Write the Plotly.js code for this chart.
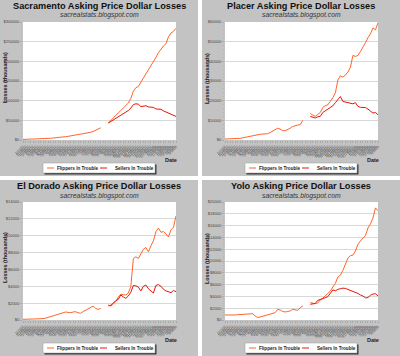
<!DOCTYPE html>
<html>
<head>
<meta charset="utf-8">
<script src="https://cdn.plot.ly/plotly-3.0.1.min.js"></script>
<style>html,body{margin:0;padding:0;background:#fff;}#chart{width:400px;height:356px;}</style>
</head>
<body>
<div id="chart"></div>
<script>
// ---- data ----
const dates = ["1/7/07","1/14/07","1/21/07","1/28/07","2/4/07","2/11/07","2/18/07","2/25/07","3/4/07","3/11/07","3/18/07","3/25/07","4/1/07","4/8/07","4/15/07","4/22/07","4/29/07","5/6/07","5/13/07","5/20/07","5/27/07","6/3/07","6/10/07","6/17/07","6/24/07","7/1/07","7/8/07","7/15/07","7/22/07","7/29/07","8/5/07","8/12/07","8/19/07","8/26/07","9/2/07","9/9/07","9/16/07","9/23/07","9/30/07","10/7/07","10/14/07","10/21/07","10/28/07","11/4/07","11/11/07","11/18/07","11/25/07","12/2/07","12/9/07","12/16/07","12/23/07","12/30/07","1/6/08","1/13/08","1/20/08","1/27/08","2/3/08","2/10/08","2/17/08","2/24/08","3/2/08","3/9/08"];

const seriesNames = ["Flippers In Trouble", "Sellers In Trouble"];
const panelTitles = ["Sacramento Asking Price Dollar Losses", "Placer Asking Price Dollar Losses", "El Dorado Asking Price Dollar Losses", "Yolo Asking Price Dollar Losses"];
const subtitle = "sacrealstats.blogspot.com";
const yTitle = "Losses (thousands)";
const xTitle = "Date";

const sacFlippers = [1500,1600,1700,1900,2200,2400,2600,3000,3300,3600,4000,4400,5000,5400,6400,6800,7900,8500,9300,10400,11000,11800,13200,13800,15000,16200,17300,19600,21800,24200,27400,31000,null,null,
  43000,50000,57000,63000,69000,75000,81000,86000,94000,106000,124000,133000,136000,147000,157000,168000,178000,189000,198000,210000,222000,232000,239000,245000,262000,272000,276000,284000];
const sacSellers = [null,null,null,null,null,null,null,null,null,null,null,null,null,null,null,null,null,null,null,null,null,null,null,null,null,null,null,null,null,null,null,null,null,null,
  43000,47000,51000,55000,59000,62000,65000,70000,75000,81000,90000,92000,91000,85000,86000,87000,84000,84000,83000,79000,79000,78000,74000,71000,68000,65000,62000,60000];

const plaFlippers = [500,500,600,600,700,800,850,1100,1400,1700,1900,2200,2400,2700,2900,3000,3000,3200,3800,4600,5300,6000,5500,4800,4700,5200,6000,6900,7400,7600,7800,10000,null,null,
  13400,12500,12000,13000,14000,16500,17500,17900,19500,21500,24000,30500,32600,32000,33000,34500,37000,43000,42500,43000,45000,47000,49500,52000,54000,57000,56000,59700];
const plaSellers = [null,null,null,null,null,null,null,null,null,null,null,null,null,null,null,null,null,null,null,null,null,null,null,null,null,null,null,null,null,null,null,null,null,null,
  12000,11500,11200,11800,12000,14000,14800,15400,16200,17400,19000,20500,22100,19600,19300,19100,18600,18400,19000,17100,16600,16700,16500,15700,14500,13700,14000,12800];

const eldFlippers = [80,80,90,100,100,110,120,140,160,220,300,380,480,580,680,750,850,950,900,870,950,990,850,800,1000,1150,1300,1450,1650,1350,1270,1380,null,null,
  1660,1780,2000,2200,2730,3050,3000,2970,3200,4000,7300,7500,7300,7900,8400,8600,8100,8800,9400,10500,10900,10400,10500,10200,9850,10700,11000,12340];
const eldSellers = [null,null,null,null,null,null,null,null,null,null,null,null,null,null,null,null,null,null,null,null,null,null,null,null,null,null,null,null,null,null,null,null,null,null,
  1780,1660,2000,2300,2450,2970,2730,2570,2850,3300,4100,4050,3900,3450,4000,4150,3700,3500,3200,4100,4200,4000,3650,3450,3350,3250,3500,3360];

const yolFlippers = [850,820,800,790,850,900,940,960,960,980,1000,1070,700,420,510,650,790,880,960,1100,1240,1810,1700,1450,1360,1450,1530,1810,1700,1640,2090,2370,null,null,
  2940,2850,2770,2900,3400,3700,4070,4500,4900,5600,6200,7300,7600,8400,9500,10500,10900,11000,11700,12800,13400,13900,14300,15600,16300,17300,19000,18500];
const yolSellers = [null,null,null,null,null,null,null,null,null,null,null,null,null,null,null,null,null,null,null,null,null,null,null,null,null,null,null,null,null,null,null,null,null,null,
  2660,2700,2800,3330,3450,3650,3790,3950,4500,5100,4950,5200,5300,5400,5350,5200,5000,4900,4700,4500,4240,4070,3750,3800,4200,4400,4450,4070];

const yMax = [300000, 60000, 14000, 20000];
const yStep = [50000, 10000, 2000, 2000];

// ---- styling / layout ----
const W = 400, H = 356;
const FONT = "Liberation Sans, Arial, sans-serif";
const colors = ["#ff6428", "#e81408"];
const px = x => x / W;
const py = y => 1 - y / H;

const panels = [
  {fl: sacFlippers, se: sacSellers, ox: 0,   oy: 0},
  {fl: plaFlippers, se: plaSellers, ox: 202, oy: 0},
  {fl: eldFlippers, se: eldSellers, ox: 0,   oy: 180},
  {fl: yolFlippers, se: yolSellers, ox: 202, oy: 180}
];

const traces = [];
const layout = {
  width: W, height: H,
  margin: {l: 0, r: 0, t: 0, b: 0},
  paper_bgcolor: "#ffffff",
  plot_bgcolor: "#ffffff",
  showlegend: false,
  font: {family: FONT, color: "#222"},
  shapes: [],
  annotations: []
};

panels.forEach((p, k) => {
  const n = k + 1;
  const xa = "x" + (n === 1 ? "" : n), ya = "y" + (n === 1 ? "" : n);
  const ox = p.ox, oy = p.oy;
  // plot area in pixels
  const L = ox + 23, R = ox + 176, T = oy + 22, B = oy + 140;

  [p.fl, p.se].forEach((vals, s) => {
    traces.push({
      type: "scatter", mode: "lines",
      x: dates, y: vals,
      xaxis: xa, yaxis: ya,
      name: seriesNames[s],
      connectgaps: false,
      line: {color: colors[s], width: 1},
      hoverinfo: "skip"
    });
  });

  layout["xaxis" + (n === 1 ? "" : n)] = {
    domain: [px(L), px(R)], anchor: ya,
    type: "category", range: [0, dates.length - 1],
    tickmode: "array", tickvals: dates, ticktext: dates,
    tickangle: -45, tickfont: {size: 4, color: "#555", family: FONT},
    ticks: "outside", ticklen: 2, tickcolor: "#999", tickwidth: 0.6,
    showgrid: false, zeroline: false, showline: false, fixedrange: true
  };
  layout["yaxis" + (n === 1 ? "" : n)] = {
    domain: [py(B), py(T)], anchor: xa,
    range: [0, yMax[k]], tick0: 0, dtick: yStep[k],
    tickprefix: "$", tickformat: "d",
    tickfont: {size: 4, color: "#444", family: FONT},
    ticks: "outside", ticklen: 2, tickcolor: "#999", tickwidth: 0.6,
    minor: {ticks: "outside", ticklen: 1.2, tickcolor: "#aaa", dtick: yStep[k] / 5, showgrid: false},
    gridcolor: "#d8d8d8", gridwidth: 1,
    zeroline: false, showline: false, fixedrange: true
  };

  // panel background
  layout.shapes.push({type: "rect", xref: "paper", yref: "paper", layer: "below",
    x0: px(ox), x1: px(ox + 198), y0: py(oy + 176), y1: py(oy),
    fillcolor: "#c3c3c3", line: {width: 0}});
  // white plotting area
  layout.shapes.push({type: "rect", xref: "paper", yref: "paper", layer: "below",
    x0: px(L), x1: px(R), y0: py(B), y1: py(T),
    fillcolor: "#ffffff", line: {width: 0}});

  // titles
  const cx = ox + 99;
  layout.annotations.push({xref: "paper", yref: "paper", x: px(cx), y: py(oy + 5.5),
    text: "<b>" + panelTitles[k] + "</b>", showarrow: false, xanchor: "center", yanchor: "middle",
    font: {size: 9.2, color: "#111", family: FONT}});
  layout.annotations.push({xref: "paper", yref: "paper", x: px(cx), y: py(oy + 15.5),
    text: "<i>" + subtitle + "</i>", showarrow: false, xanchor: "center", yanchor: "middle",
    font: {size: 6.8, color: "#333", family: FONT}});
  layout.annotations.push({xref: "paper", yref: "paper", x: px(ox + 5), y: py(oy + 78),
    text: "<b>" + yTitle + "</b>", showarrow: false, textangle: -90, xanchor: "center", yanchor: "middle",
    font: {size: 5.4, color: "#222", family: FONT}});
  layout.annotations.push({xref: "paper", yref: "paper", x: px(ox + 171), y: py(oy + 160),
    text: "<b>" + xTitle + "</b>", showarrow: false, xanchor: "center", yanchor: "middle",
    font: {size: 5.5, color: "#222", family: FONT}});

  // legend box
  const lx0 = ox + 43, lx1 = ox + 155, ly0 = oy + 163, ly1 = oy + 173;
  layout.shapes.push({type: "rect", xref: "paper", yref: "paper", layer: "above",
    x0: px(lx0 + 1.5), x1: px(lx1 + 1.5), y0: py(ly1 + 1.5), y1: py(ly0 + 1.5),
    fillcolor: "#3a3a3a", line: {width: 0}});
  layout.shapes.push({type: "rect", xref: "paper", yref: "paper", layer: "above",
    x0: px(lx0), x1: px(lx1), y0: py(ly1), y1: py(ly0),
    fillcolor: "#ffffff", line: {width: 0.5, color: "#999"}});
  const ly = (ly0 + ly1) / 2;
  const items = [[4, 11, 12], [57, 64, 70]];
  items.forEach((it, s) => {
    layout.shapes.push({type: "line", xref: "paper", yref: "paper", layer: "above",
      x0: px(lx0 + it[0]), x1: px(lx0 + it[1]), y0: py(ly), y1: py(ly),
      line: {color: colors[s], width: 1}});
    layout.annotations.push({xref: "paper", yref: "paper", x: px(lx0 + it[2]), y: py(ly),
      text: "<b>" + seriesNames[s] + "</b>", showarrow: false, xanchor: "left", yanchor: "middle",
      font: {size: 4.6, color: "#222", family: FONT}});
  });
});

Plotly.newPlot("chart", traces, layout, {staticPlot: true, displayModeBar: false});
</script>
</body>
</html>
